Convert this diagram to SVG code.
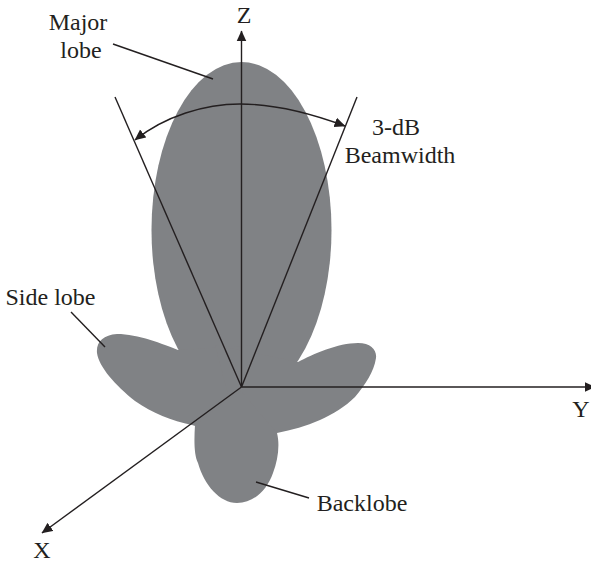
<svg xmlns="http://www.w3.org/2000/svg" width="591" height="565" viewBox="0 0 591 565">
<style>
.lobe{fill:#808285;stroke:none}
.l{fill:none;stroke:#231f20;stroke-width:1.4}
text{font-family:"Liberation Serif",serif;font-size:24px;fill:#231f20;text-anchor:middle}
</style>
<defs>
<marker id="a" viewBox="0 0 10 10" refX="9.5" refY="5" markerWidth="11" markerHeight="11" markerUnits="userSpaceOnUse" orient="auto-start-reverse"><path d="M0 0.5L10 5L0 9.5Z" fill="#231f20"/></marker>
</defs>
<g id="lobes">
<ellipse class="lobe" cx="241.5" cy="230" rx="90" ry="168"/>
<path class="lobe" d="M178 350C163 344 138 334 117 334C103 335 96 342 97 353C99 367 115 385 135 401C152 413 172 421 192 425L240 440L260 345Z"/>
<path class="lobe" d="M298 362C313 354 338 343 358 343C371 343 377 350 376 358C374 372 365 385 355 397C345 407 333 414 320 420C306 426 292 430 277 433L240 440L215 345Z"/>
<path class="lobe" d="M195 425C194 440 194 455 198 463C204 485 220 503 237 503C254 503 267 490 273 473C278 460 280 445 277 433L240 390Z"/>
</g>
<g id="connectors">
<path class="l" d="M241.500 387V31" marker-end="url(#a)"/>
<path class="l" d="M241.500 387H595" marker-end="url(#a)" style="stroke-width:1.7"/>
<path class="l" d="M241.500 387L42 533" marker-end="url(#a)"/>
<path class="l" d="M241.500 387L115 97"/>
<path class="l" d="M241.500 387L357 97"/>
<path class="l" d="M135 140C165 116 205 104 240 104C275 104 310 113 345 126" marker-start="url(#a)" marker-end="url(#a)"/>
<path class="l" d="M113 44L213 79"/>
<path class="l" d="M71 312L105 347"/>
<path class="l" d="M256 482L309 498"/>
</g>
<g id="labels">
<text x="244" y="23">Z</text>
<text x="78" y="30">Major</text>
<text x="81" y="58">lobe</text>
<text x="396" y="135">3-dB</text>
<text x="400" y="163">Beamwidth</text>
<text x="50.500" y="305">Side lobe</text>
<text x="362" y="511">Backlobe</text>
<text x="581" y="417">Y</text>
<text x="42" y="558">X</text>
</g>
</svg>
